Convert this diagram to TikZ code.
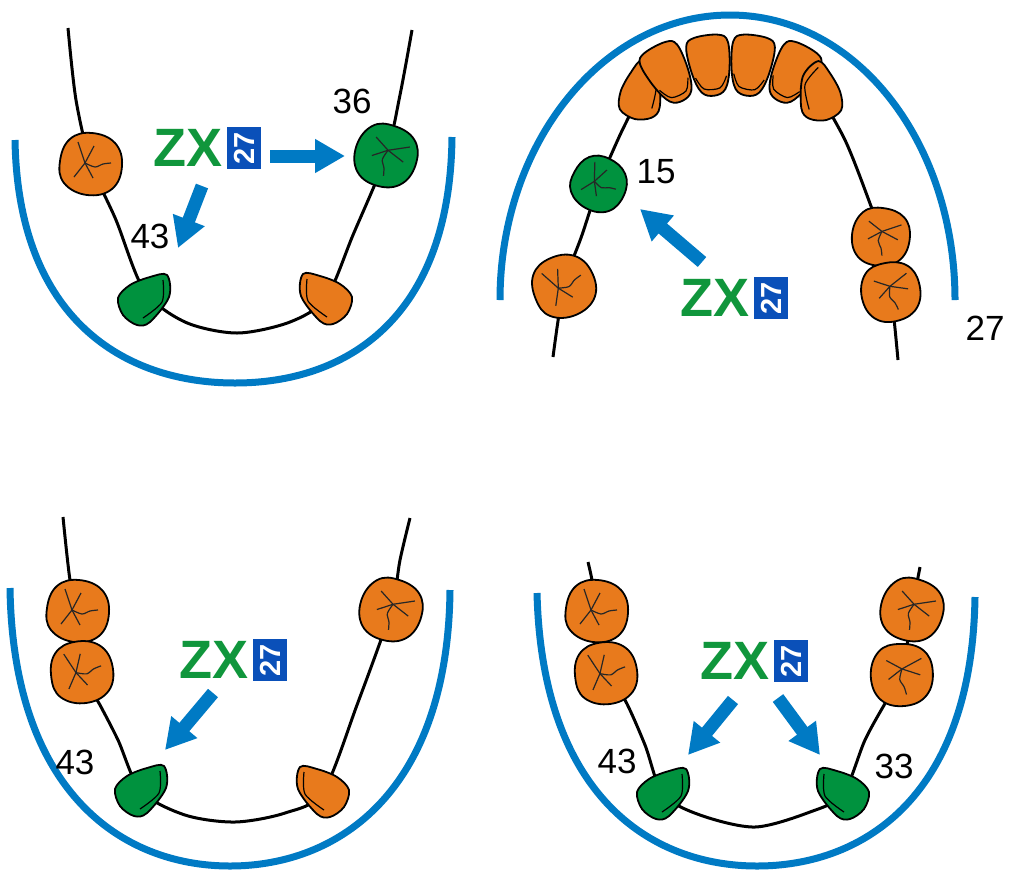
\documentclass[tikz,border=0pt]{standalone}
\usepackage{fontspec}
\setmainfont{Liberation Sans}
\usepackage{graphicx}
\usetikzlibrary{arrows.meta,positioning}

\definecolor{archblue}{RGB}{0,122,196}
\definecolor{toothorange}{RGB}{232,122,28}
\definecolor{toothgreen}{RGB}{0,146,62}
\definecolor{zxgreen}{RGB}{16,150,60}
\definecolor{zxblue}{RGB}{10,80,185}

\begin{document}
\begin{tikzpicture}[
x=1pt, y=-1pt,
every node/.style={font=\fontsize{35}{35}\selectfont, inner sep=0pt},
jaw/.style={draw=archblue, line width=7pt},
arch/.style={draw=black, line width=3pt},
fissure/.style={draw=black!85, line width=1.2pt, line join=round},
push/.style={draw=archblue, line width=13pt, -{Triangle[length=30pt,width=32pt]}},
zx/.style={font=\fontsize{54}{54}\selectfont\bfseries, text=zxgreen},
zxbox/.style={fill=zxblue, text=white, font=\fontsize{29}{29}\selectfont\bfseries,
  minimum width=34pt, minimum height=42pt},
molar/.pic={
  \path[pic actions, draw=black, line width=1.8pt] plot[smooth cycle, tension=.7]
    coordinates {(31,2) (24,-21) (1,-31) (-21,-25) (-31,-3) (-27,19) (-4,31) (21,25)};
  \draw[fissure] (-13,-22) -- (-6,-1) -- (-17,13);
  \draw[fissure] (3,-18) -- (-6,-1) -- (2,14);
  \draw[fissure] plot[smooth] coordinates {(-6,-1) (4,3) (12,0) (20,-1)};
},
premolar/.pic={
  \path[pic actions, draw=black, line width=1.8pt] plot[smooth cycle, tension=.55]
    coordinates {(23,-25) (25,-3) (6,22) (-7,25) (-21,15) (-26,-2) (-14,-15) (6,-23)};
  \draw[black, line width=1.2pt] plot[smooth] coordinates {(19,-20) (18,2) (-1,18)};
},
incisor/.pic={
  \path[pic actions, draw=black, line width=1.8pt] plot[smooth cycle, tension=.6]
    coordinates {(-21,-22) (-12,-30) (12,-30) (21,-22) (19,5) (12,25) (0,30) (-12,25) (-19,5)};
  \draw[black, line width=1.2pt] plot[smooth] coordinates {(-16,10) (-9,22) (7,23) (15,12)};
}
]
\useasboundingbox (0,0) rectangle (1011,879);

% lower jaw, top left
\draw[jaw] (15,140) .. controls (18,320) and (125,383) .. (235,383)
  .. controls (345,383) and (450,320) .. (452,137);
\draw[arch] plot[smooth] coordinates {(68,28) (76,100) (91,164) (116,220) (144,290)
  (185,322) (237,333) (290,322) (326,298) (353,235) (386,156) (400,95) (412,30)};
\pic[fill=toothorange] at (91,164) {molar};
\pic[fill=toothgreen, rotate=-100] at (386,156) {molar};
\pic[fill=toothgreen] at (144,300) {premolar};
\pic[fill=toothorange, xscale=-1] at (326,299) {premolar};

\node[zx] (zxA) at (188,148) {ZX};
\node[zxbox, right=4pt of zxA] (boxA) {\rotatebox{90}{27}};
\coordinate (pA1) at (270,156); \coordinate (tA1) at (345,156);
\coordinate (pA2) at (202,186); \coordinate (tA2) at (178,248);
\draw[push] (pA1) -- (tA1);
\draw[push] (pA2) -- (tA2);
\node (nA36) at (352,101) {36};
\node (nA43) at (150,236) {43};

% upper jaw, top right
\draw[jaw] (500,300) .. controls (500,143) and (603,15) .. (730,15)
  .. controls (857,15) and (955,143) .. (955,300);
\draw[arch] plot[smooth] coordinates {(553,357) (564,286) (582,235) (599,184) (620,135) (641,93)};
\draw[arch] plot[smooth] coordinates {(820,95) (845,140) (865,190) (881,237) (891,292) (898,360)};
\pic[fill=toothorange, rotate=30] at (564,286) {molar};
\pic[fill=toothgreen, scale=.88, rotate=-20] at (599,184) {molar};
\pic[fill=toothorange, scale=.93, rotate=-90] at (881,237) {molar};
\pic[fill=toothorange, scale=.95, rotate=-70] at (891,292) {molar};
\pic[fill=toothorange, rotate=40] at (641,94) {premolar};
\pic[fill=toothorange, rotate=28] at (669,74) {incisor};
\pic[fill=toothorange, rotate=8] at (710,66) {incisor};
\pic[fill=toothorange, rotate=-8] at (751,66) {incisor};
\pic[fill=toothorange, rotate=-28] at (792,74) {incisor};
\pic[fill=toothorange, rotate=-40, xscale=-1] at (820,95) {premolar};

\node[zx] (zxB) at (715,298) {ZX};
\node[zxbox, right=4pt of zxB] (boxB) {\rotatebox{90}{27}};
\coordinate (pB1) at (702,262); \coordinate (tB1) at (640,209);
\draw[push] (pB1) -- (tB1);
\node (nB15) at (656,172) {15};
\node (nB27) at (985,328) {27};

% lower jaw, bottom left
\draw[jaw] (10,588) .. controls (13,790) and (120,866) .. (230,866)
  .. controls (340,866) and (448,790) .. (450,590);
\draw[arch] plot[smooth] coordinates {(63,517) (70,580) (78,611) (82,672) (100,705) (118,740)
  (141,791) (185,815) (235,822) (285,813) (323,792) (357,705) (391,610) (400,560) (410,518)};
\pic[fill=toothorange] at (78,611) {molar};
\pic[fill=toothorange, rotate=15] at (82,672) {molar};
\pic[fill=toothorange, rotate=-100] at (391,610) {molar};
\pic[fill=toothgreen] at (141,791) {premolar};
\pic[fill=toothorange, xscale=-1] at (323,792) {premolar};

\node[zx] (zxC) at (214,660) {ZX};
\node[zxbox, right=4pt of zxC] (boxC) {\rotatebox{90}{27}};
\coordinate (pC1) at (213,693); \coordinate (tC1) at (165,750);
\draw[push] (pC1) -- (tC1);
\node (nC43) at (75,762) {43};

% lower jaw, bottom right
\draw[jaw] (537,593) .. controls (542,795) and (650,866) .. (757,866)
  .. controls (865,866) and (972,795) .. (975,597);
\draw[arch] plot[smooth] coordinates {(588,562) (592,580) (597,611) (606,673) (625,700) (645,745)
  (663,794) (700,815) (755,827) (810,812) (843,794) (865,740) (887,700) (902,675) (912,610) (920,567)};
\pic[fill=toothorange] at (597,611) {molar};
\pic[fill=toothorange, rotate=15] at (606,673) {molar};
\pic[fill=toothorange, rotate=-80] at (902,675) {molar};
\pic[fill=toothorange, rotate=-100] at (912,610) {molar};
\pic[fill=toothgreen] at (663,794) {premolar};
\pic[fill=toothgreen, xscale=-1] at (843,794) {premolar};

\node[zx] (zxD) at (735,661) {ZX};
\node[zxbox, right=4pt of zxD] (boxD) {\rotatebox{90}{27}};
\coordinate (pD1) at (733,700); \coordinate (tD1) at (688,755);
\coordinate (pD2) at (778,698); \coordinate (tD2) at (820,755);
\draw[push] (pD1) -- (tD1);
\draw[push] (pD2) -- (tD2);
\node (nD43) at (617,761) {43};
\node (nD33) at (894,766) {33};
\end{tikzpicture}
\end{document}
